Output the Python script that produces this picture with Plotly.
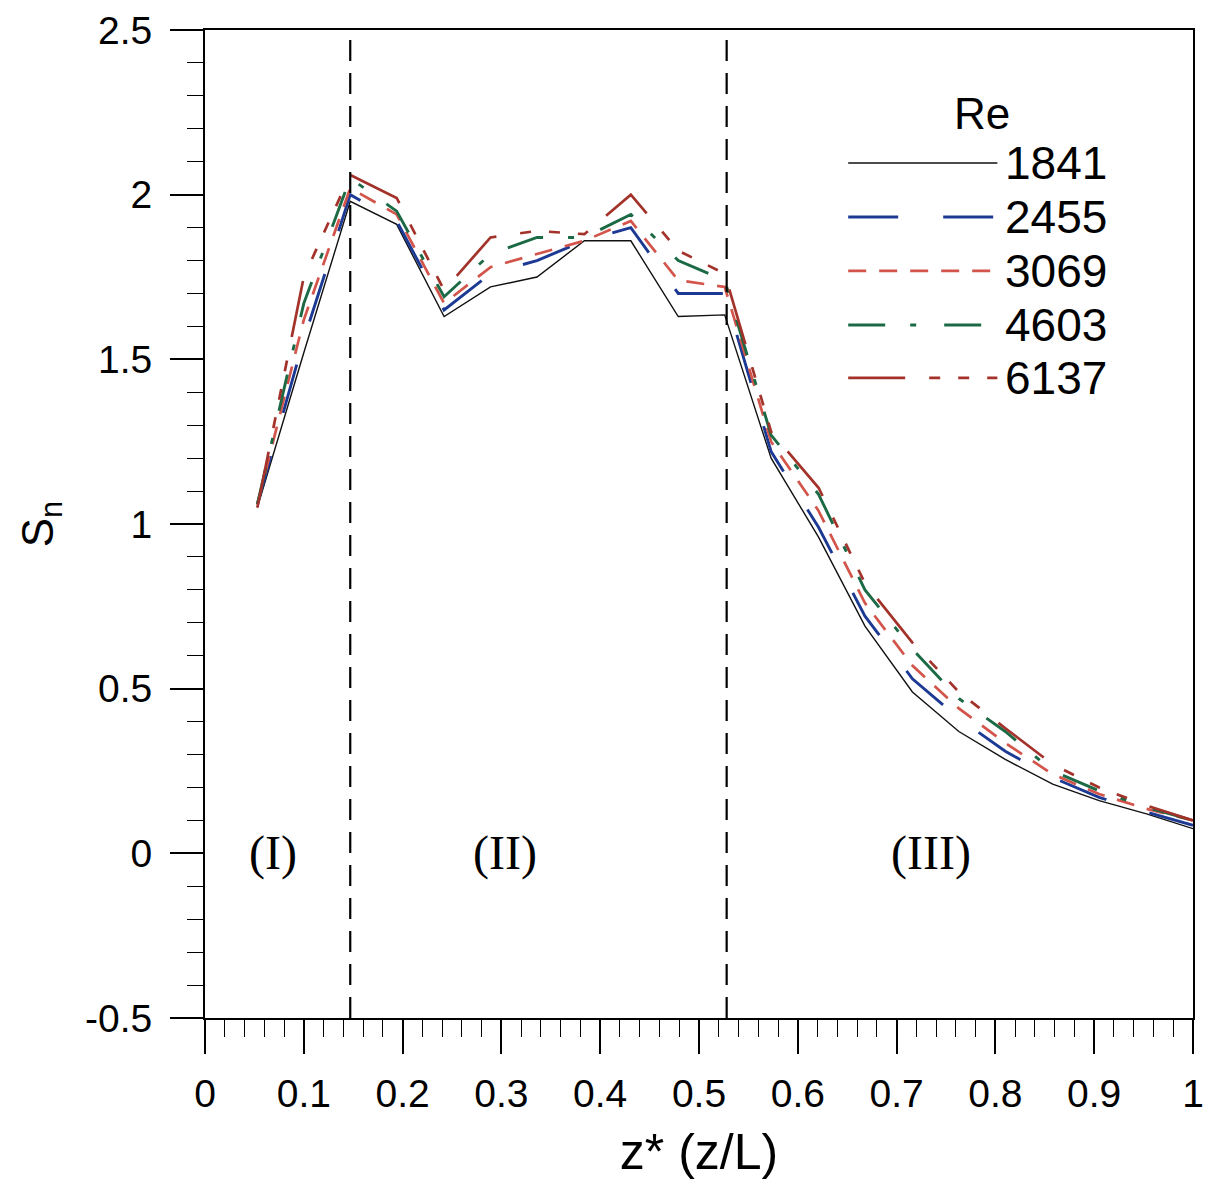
import plotly.graph_objects as go

# Axial positions z* = z/L
z_star = [0.053, 0.100, 0.147, 0.194, 0.242, 0.289, 0.336, 0.384, 0.431, 0.479,
          0.526, 0.573, 0.621, 0.668, 0.716, 0.763, 0.810, 0.858, 0.905, 0.953, 1.000]

# Normalised swirl number S_n for each Reynolds number
sn_1841 = [1.05, 1.52, 1.98, 1.91, 1.63, 1.72, 1.75, 1.86, 1.86, 1.63,
           1.635, 1.20, 0.96, 0.69, 0.49, 0.37, 0.285, 0.21, 0.16, 0.12, 0.075]
sn_2455 = [1.06, 1.56, 2.00, 1.92, 1.65, 1.76, 1.80, 1.86, 1.90, 1.70,
           1.70, 1.22, 0.99, 0.72, 0.53, 0.41, 0.31, 0.23, 0.17, 0.125, 0.085]
sn_3069 = [1.06, 1.62, 2.02, 1.94, 1.67, 1.78, 1.82, 1.86, 1.92, 1.74,
           1.72, 1.25, 1.04, 0.76, 0.57, 0.44, 0.335, 0.24, 0.18, 0.135, 0.10]
sn_4603 = [1.06, 1.67, 2.05, 1.95, 1.69, 1.82, 1.87, 1.87, 1.94, 1.80,
           1.74, 1.27, 1.09, 0.80, 0.62, 0.47, 0.37, 0.25, 0.19, 0.14, 0.10]
sn_6137 = [1.05, 1.75, 2.06, 1.99, 1.71, 1.87, 1.89, 1.88, 2.00, 1.83,
           1.76, 1.28, 1.11, 0.82, 0.64, 0.49, 0.38, 0.27, 0.20, 0.145, 0.10]

re_labels = ["1841", "2455", "3069", "4603", "6137"]
series = [sn_1841, sn_2455, sn_3069, sn_4603, sn_6137]

# Axis tick labels (plain hyphen for the negative value)
y_tick_vals = [-0.5, 0, 0.5, 1, 1.5, 2, 2.5]
y_tick_text = ["-0.5", "0", "0.5", "1", "1.5", "2", "2.5"]

# Region boundaries and region names
boundaries = [0.147, 0.528]
region_names = ["(I)", "(II)", "(III)"]
region_x = [0.069, 0.304, 0.735]

colors = ["#111111", "#1c3a94", "#d2544a", "#1b6a45", "#a3322a"]
dashes = ["solid", "50px,45px", "18px,13px", "37px,25px,6px,28px",
          "57px,24px,11px,18px,11px,18px,11px,24px"]
widths = [1.4, 2.9, 2.7, 2.9, 2.7]

SANS = "Liberation Sans, Arial, sans-serif"
SERIF = "Liberation Serif, Times New Roman, serif"

fig = go.Figure()
for lab, ys, c, d, w in zip(re_labels, series, colors, dashes, widths):
    fig.add_trace(go.Scatter(x=z_star, y=ys, mode="lines", name=lab,
                             line=dict(color=c, dash=d, width=w),
                             showlegend=False))

shapes = []
# dashed region boundaries spanning the full plot height
for b in boundaries:
    shapes.append(dict(type="line", xref="x", yref="paper", x0=b, x1=b, y0=0, y1=1,
                       line=dict(color="black", width=2.2, dash="21px,12px")))

# hand-built legend: long line samples with labels on the right
leg_y = [0.8654, 0.8107, 0.7561, 0.7014, 0.6478]
annotations = []
for lab, c, d, w, yy in zip(re_labels, colors, dashes, widths, leg_y):
    shapes.append(dict(type="line", xref="paper", yref="paper", x0=0.651, x1=0.802,
                       y0=yy, y1=yy, line=dict(color=c, dash=d, width=w)))
    annotations.append(dict(xref="paper", yref="paper", x=0.808, y=yy, text=lab,
                            showarrow=False, xanchor="left", yanchor="middle",
                            font=dict(family=SANS, size=46, color="black")))
annotations.append(dict(xref="paper", yref="paper", x=0.786, y=0.915, text="Re",
                        showarrow=False, xanchor="center", yanchor="middle",
                        font=dict(family=SANS, size=44, color="black")))

for name, rx in zip(region_names, region_x):
    annotations.append(dict(xref="x", yref="y", x=rx, y=0, text=name, showarrow=False,
                            xanchor="center", yanchor="middle",
                            font=dict(family=SERIF, size=48, color="black")))

fig.update_layout(
    width=1207, height=1180,
    margin=dict(l=205, r=14, t=30, b=162, autoexpand=False),
    paper_bgcolor="white", plot_bgcolor="white",
    shapes=shapes, annotations=annotations,
    font=dict(family=SANS, size=38, color="black"),
)

fig.update_xaxes(
    range=[0, 1], dtick=0.1, tick0=0, automargin=False,
    showline=True, linecolor="black", linewidth=2, mirror=True,
    ticks="outside", ticklen=34, tickwidth=1.6, tickcolor="black",
    minor=dict(dtick=0.02, ticks="outside", ticklen=17, tickwidth=1.4, tickcolor="black"),
    showgrid=False, zeroline=False,
    tickfont=dict(family=SANS, size=39, color="black"),
    ticklabelstandoff=6,
    title=dict(text="z* (z/L)", font=dict(family=SANS, size=50, color="black"), standoff=20),
)
fig.update_yaxes(
    range=[-0.5, 2.5], tickmode="array", tickvals=y_tick_vals, ticktext=y_tick_text,
    automargin=False,
    showline=True, linecolor="black", linewidth=2, mirror=True,
    ticks="outside", ticklen=33, tickwidth=1.6, tickcolor="black",
    minor=dict(dtick=0.1, tick0=0, ticks="outside", ticklen=16, tickwidth=1.4, tickcolor="black"),
    showgrid=False, zeroline=False,
    tickfont=dict(family=SANS, size=39, color="black"),
    ticklabelstandoff=10,
    title=dict(text="S<sub>n</sub>", font=dict(family=SANS, size=44, color="black"), standoff=18),
)

fig.write_html("out.html")
